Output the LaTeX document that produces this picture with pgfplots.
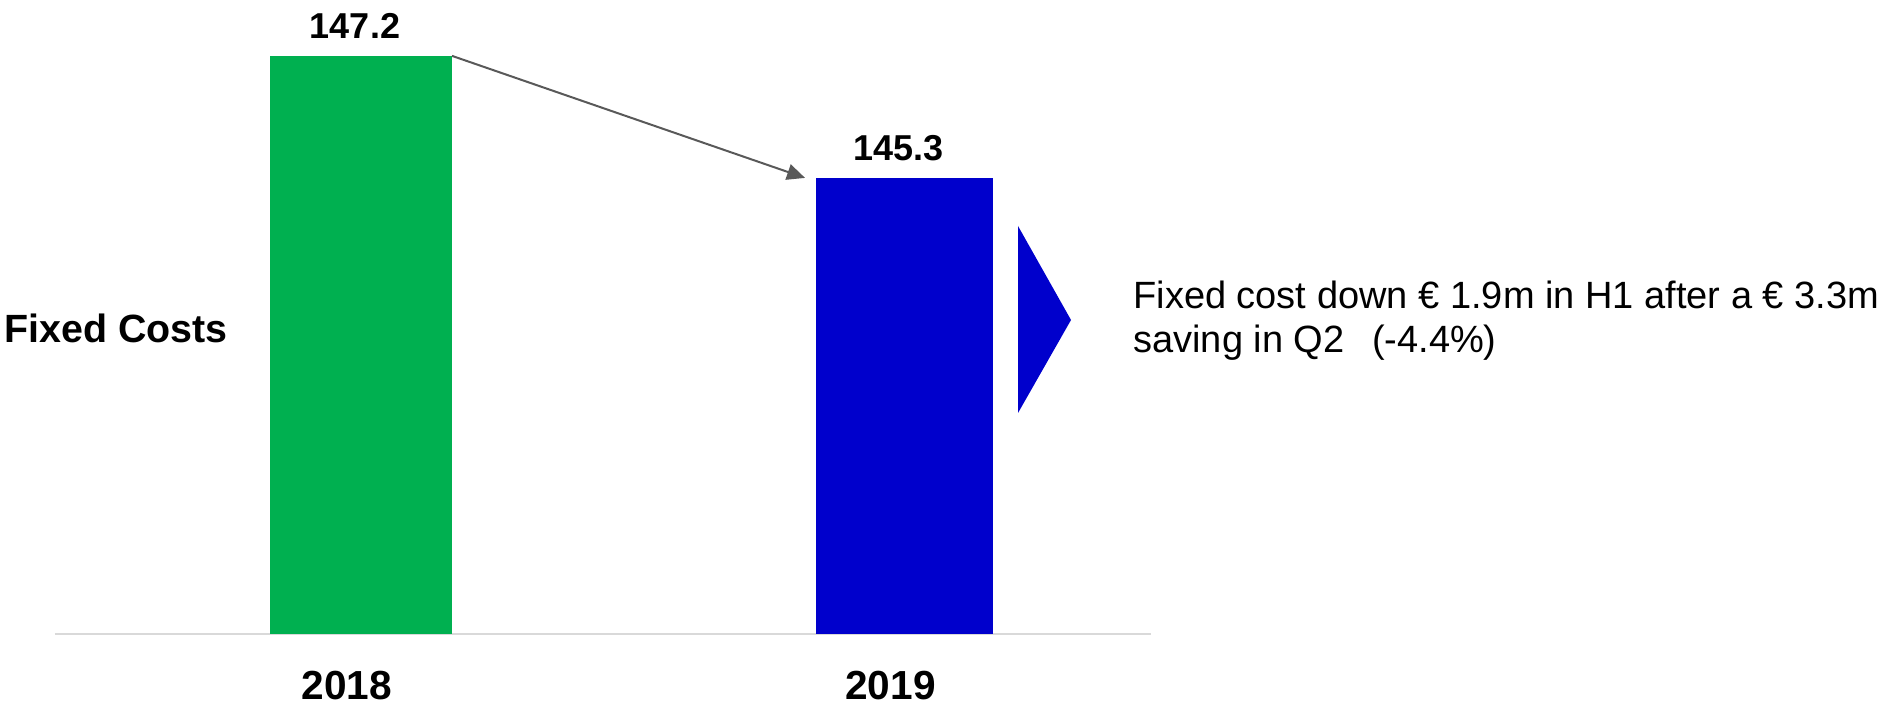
\documentclass[border=0pt]{standalone}
\usepackage{fontspec}
\setmainfont{Liberation Sans}
\usepackage{pgfplots}
\pgfplotsset{compat=1.18}
\usetikzlibrary{arrows.meta}
\definecolor{cgreen}{HTML}{00B050}
\definecolor{cblue}{HTML}{0000CC}
\definecolor{carrow}{HTML}{595959}
\definecolor{caxis}{HTML}{D9D9D9}
\begin{document}
\begin{tikzpicture}
\useasboundingbox (-27.5pt,-38pt) rectangle (924.5pt,317pt);
\begin{axis}[
  at={(0pt,0pt)}, anchor=south west,
  scale only axis, width=548pt, height=317pt,
  xmin=-0.563, xmax=1.4535,
  ymin=138.2, ymax=148.07,
  axis x line*=bottom, axis y line=none,
  x axis line style={caxis, line width=1pt, -},
  xtick={0,1}, xticklabels={2018,2019},
  major tick length=0pt,
  xticklabel style={anchor=base, yshift=-33pt, xshift=-7pt, inner sep=0pt,
    font=\fontsize{20.3pt}{24pt}\selectfont\bfseries},
  ytick=\empty,
  ybar, bar shift=0pt,
  nodes near coords={\pgfmathprintnumber[fixed,precision=1,fixed zerofill,assume math mode=true]{\pgfplotspointmeta}},
  every node near coord/.append style={anchor=base, yshift=8.5pt, xshift=-3pt, inner sep=0pt,
    font=\fontsize{18pt}{22pt}\selectfont\bfseries, text=black},
]
\addplot[fill=cgreen, draw=none, bar width=91pt] coordinates {(0,147.2)};
\addplot[fill=cblue, draw=none, bar width=88.5pt] coordinates {(1,145.3)};
\draw[carrow, line width=1pt, -{Triangle[length=9pt,width=8pt]}] (axis cs:0.1674,147.2) -- (axis cs:0.817,145.3);
\end{axis}
% annotations (px -> pt: ((X-55)/2, (634-Y)/2))
\fill[cblue] (481.5pt,204pt) -- (508pt,157pt) -- (481.5pt,110.5pt) -- cycle;
\node[anchor=base west, inner sep=0pt, font=\fontsize{19pt}{22pt}\selectfont] at (539pt,162.5pt) {Fixed cost down € 1.9m in H1 after a € 3.3m};
\node[anchor=base west, inner sep=0pt, font=\fontsize{19pt}{22pt}\selectfont] at (539pt,140.5pt) {saving in Q2\ \ \,(-4.4\%)};
\node[anchor=base west, inner sep=0pt, font=\fontsize{19.7pt}{22pt}\selectfont\bfseries] at (-25.5pt,145.5pt) {Fixed Costs};
\end{tikzpicture}
\end{document}
